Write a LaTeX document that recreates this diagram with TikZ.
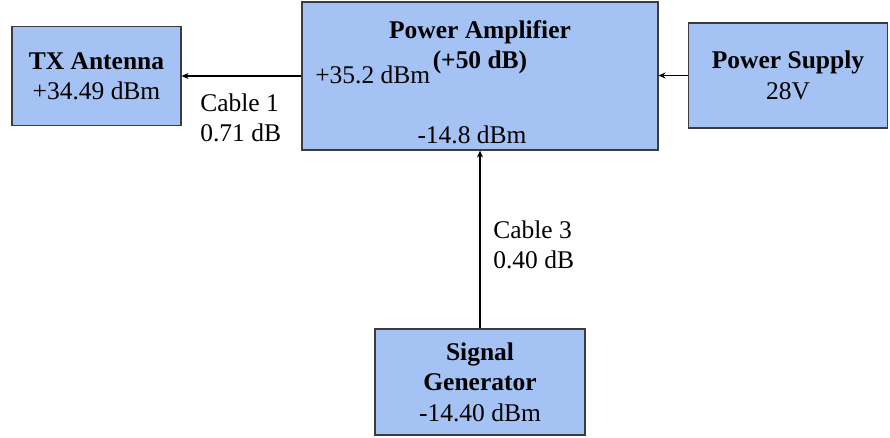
\documentclass[tikz,border=0pt]{standalone}
\usepackage{fontspec}
\setmainfont{Liberation Serif}[Ligatures=TeX]
\usepackage{xcolor}
\usepackage{tikz}
\usetikzlibrary{arrows.meta,positioning,calc}
\definecolor{blkfill}{HTML}{A4C2F4}
\definecolor{blkline}{HTML}{3C3C3C}

\begin{document}
\begin{tikzpicture}[x=0.02cm, y=-0.02cm,
  blk/.style={draw=blkline, line width=0.7pt, fill=blkfill, align=center, inner sep=0pt, font=\rmfamily\fontsize{14.5}{17.3}\selectfont},
  lbl/.style={align=left, inner sep=0pt, font=\rmfamily\fontsize{14.5}{17.3}\selectfont},
  arr/.style={-{Stealth[length=4pt,width=3.5pt]}, line width=0.6pt, black}
]
  \useasboundingbox (0,0) rectangle (890,437);
  % blocks
  \node[blk, minimum width=3.38cm, minimum height=1.98cm] (tx) at (96.5,76) {\textbf{TX Antenna}\\+34.49 dBm};
  \node[blk, minimum width=7.12cm, minimum height=2.96cm] (pa) at (480,76) {};
  \node[lbl, align=center, font=\rmfamily\fontsize{14.5}{17.3}\selectfont\bfseries] (patitle) at (480,47) {Power Amplifier\\(+50 dB)};
  \node[lbl, anchor=west] (paout) at (315,75) {+35.2 dBm};
  \node[lbl] (pain) at (472,135) {-14.8 dBm};
  \node[blk, minimum width=3.98cm, minimum height=2.1cm] (ps) at (788,75.5) {\textbf{Power Supply}\\28V};
  \node[blk, minimum width=4.2cm, minimum height=2.12cm] (sg) at (480,382) {\textbf{Signal}\\\textbf{Generator}\\-14.40 dBm};
  % cable labels
  \node[lbl, anchor=west] (cab1) at (200,118) {Cable 1\\0.71 dB};
  \node[lbl, anchor=west] (cab3) at (493,245) {Cable 3\\0.40 dB};
  % connections
  \draw[arr] (pa) -- (tx);
  \draw[arr] (ps.west) -- (ps.west -| pa.east);
  \draw[arr] (sg) -- (pa);
\end{tikzpicture}
\end{document}
